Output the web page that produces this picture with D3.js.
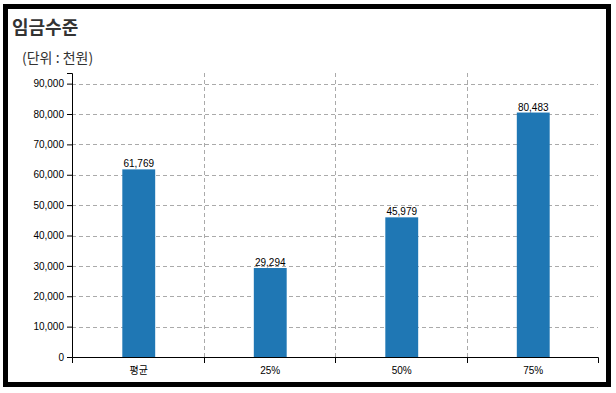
<!DOCTYPE html>
<html>
<head>
<meta charset="utf-8">
<script src="https://cdn.jsdelivr.net/npm/d3@7"></script>
<style>
  body { margin: 0; background: #fff; }
  text { font-family: "Liberation Sans", "Noto Sans CJK KR", sans-serif; }
  .grid line { stroke: #aaa; stroke-dasharray: 4,3; }
  .axis path, .axis line { stroke: #000; }
</style>
</head>
<body>
<div id="chart"></div>
<script>
// chart data
const categories = ['평균', '25%', '50%', '75%'];
const values = [61769, 29294, 45979, 80483];
const yTicks = [0, 10000, 20000, 30000, 40000, 50000, 60000, 70000, 80000, 90000];

const W = 616, H = 393;
const margin = { top: 73, right: 18, bottom: 36, left: 72 };
const width = W - margin.left - margin.right;
const height = 357 - margin.top;

const svg = d3.select('#chart')
  .append('svg')
  .attr('width', W)
  .attr('height', H);

// outer frame
svg.append('rect')
  .attr('x', 5.5).attr('y', 6.5)
  .attr('width', 603).attr('height', 378)
  .attr('fill', 'none')
  .attr('stroke', '#000')
  .attr('stroke-width', 5);

// title + unit
svg.append('text')
  .attr('x', 12).attr('y', 34)
  .attr('font-size', 18).attr('font-weight', 'bold')
  .attr('fill', '#333')
  .style('font-family', '"Noto Sans CJK KR", sans-serif')
  .text('임금수준');

svg.append('text')
  .attr('x', 22).attr('y', 63)
  .attr('font-size', 14)
  .attr('fill', '#333')
  .style('font-family', '"Noto Sans CJK KR", sans-serif')
  .text('(단위 : 천원)');

const g = svg.append('g')
  .attr('transform', `translate(${margin.left},${margin.top})`);

const x = d3.scaleBand()
  .domain(categories)
  .range([0, width]);

const y = d3.scaleLinear()
  .domain([0, 93500])
  .range([height, 0]);

// horizontal grid
g.append('g')
  .attr('class', 'grid')
  .selectAll('line')
  .data(yTicks.slice(1))
  .enter()
  .append('line')
  .attr('x1', 0).attr('x2', width)
  .attr('y1', d => Math.round(y(d)) + 0.5)
  .attr('y2', d => Math.round(y(d)) + 0.5);

// vertical grid at band edges
g.append('g')
  .attr('class', 'grid')
  .selectAll('line')
  .data(categories.slice(1))
  .enter()
  .append('line')
  .attr('x1', d => Math.round(x(d)) + 0.5)
  .attr('x2', d => Math.round(x(d)) + 0.5)
  .attr('y1', 0).attr('y2', height);

// bars
const barW = x.bandwidth() * 0.25;
g.selectAll('.bar')
  .data(values)
  .enter()
  .append('rect')
  .attr('class', 'bar')
  .attr('x', (d, i) => x(categories[i]) + x.bandwidth() / 2 - barW / 2 + 1)
  .attr('width', barW)
  .attr('y', d => y(d))
  .attr('height', d => height - y(d))
  .attr('fill', '#1f77b4');

// value labels
g.selectAll('.val')
  .data(values)
  .enter()
  .append('text')
  .attr('class', 'val')
  .attr('x', (d, i) => x(categories[i]) + x.bandwidth() / 2 + 1)
  .attr('y', d => y(d) - 2)
  .attr('text-anchor', 'middle')
  .attr('font-size', 10)
  .attr('fill', '#000')
  .text(d => d3.format(',')(d));

// x axis: ticks on band edges
const xAxis = g.append('g')
  .attr('class', 'axis')
  .attr('transform', `translate(0,${height})`);
xAxis.append('path')
  .attr('d', `M0.5,6V0.5H${width + 0.5}V6`)
  .attr('fill', 'none');
xAxis.selectAll('line')
  .data(categories.slice(1))
  .enter()
  .append('line')
  .attr('x1', d => Math.round(x(d)) + 0.5)
  .attr('x2', d => Math.round(x(d)) + 0.5)
  .attr('y1', 0).attr('y2', 6);
xAxis.selectAll('text')
  .data(categories)
  .enter()
  .append('text')
  .attr('x', d => x(d) + x.bandwidth() / 2 + 1)
  .attr('y', 17)
  .attr('text-anchor', 'middle')
  .attr('font-size', 10)
  .attr('fill', '#000')
  .text(d => d);

// y axis
g.append('g')
  .attr('class', 'axis')
  .call(d3.axisLeft(y).tickValues(yTicks).tickFormat(d3.format(',')).tickSize(5).tickSizeOuter(5).tickPadding(3))
  .call(s => s.selectAll('text').attr('font-size', 10).attr('fill', '#000'));
</script>
</body>
</html>
